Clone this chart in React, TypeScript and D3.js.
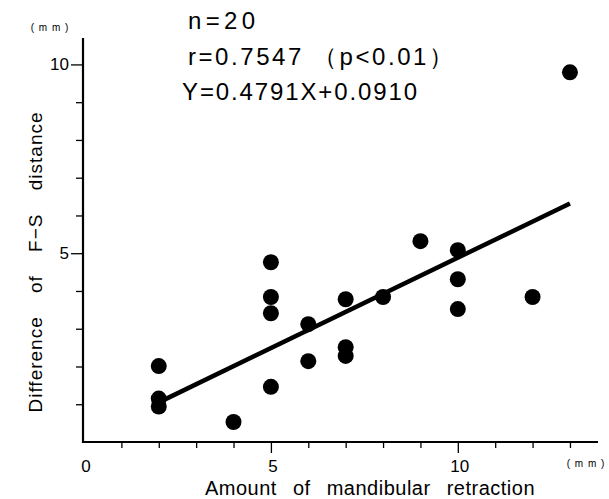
import * as d3 from "d3";
import React, { useRef, useEffect } from "react";

// amount of mandibular retraction (mm)
const xValues = [2, 2, 2, 4, 5, 5, 5, 5, 6, 6, 7, 7, 7, 8, 9, 10, 10, 10, 12, 13];
// difference of F-S distance (mm)
const yValues = [2.01, 1.15, 0.94, 0.53, 4.76, 3.84, 3.41, 1.46, 3.12, 2.14, 3.78, 2.51, 2.28, 3.84, 5.32, 5.08, 4.31, 3.52, 3.84, 9.79];
const xTickLabels = [0, 5, 10];
const yTickLabels = [5, 10];
const slope = 0.4791;
const intercept = 0.091;
const statLines = ["n=20", "r=0.7547 （p<0.01）", "Y=0.4791X+0.0910"];

const svgWidth = 609;
const svgHeight = 499;

const App = () => {
  const ref = useRef(null);

  useEffect(() => {
    const svg = d3.select(ref.current);
    svg.selectAll("*").remove();
    const font = "'Liberation Sans', Arial, sans-serif";

    const x = d3.scaleLinear().domain([0, 13.75]).range([84, 598]);
    const y = d3.scaleLinear().domain([0, 10.7]).range([442, 38]);

    const g = svg.append("g");

    // x axis
    const xAxis = d3.axisBottom(x).tickValues(d3.range(1, 14)).tickSize(6).tickFormat(() => "");
    const gx = g.append("g").attr("transform", `translate(0,${y(0)})`).call(xAxis);
    gx.select(".domain").attr("d", `M${x(0) - 1},0H${x(13.75)}`).attr("stroke-width", 2.2);
    gx.selectAll(".tick line").attr("stroke-width", 1.3).attr("y2", (d) => (d % 5 === 0 ? 11 : 6));

    // y axis
    const yAxis = d3.axisLeft(y).tickValues(d3.range(1, 11)).tickSize(7).tickFormat(() => "");
    const gy = g.append("g").attr("transform", `translate(${x(0) - 1},0)`).call(yAxis);
    gy.select(".domain").attr("d", `M0,${y(10.7)}V${y(0) + 1}`).attr("stroke-width", 2.2);
    gy.selectAll(".tick line").attr("stroke-width", 1.3).attr("x2", (d) => (d % 5 === 0 ? -12 : -7));

    g.selectAll(".xlab").data(xTickLabels).enter().append("text")
      .attr("x", (d) => x(d) + 2).attr("y", 472)
      .attr("text-anchor", "middle").attr("font-family", font).attr("font-size", 17)
      .text((d) => d);

    g.selectAll(".ylab").data(yTickLabels).enter().append("text")
      .attr("x", x(0) - 15).attr("y", (d) => y(d) + 6)
      .attr("text-anchor", "end").attr("font-family", font).attr("font-size", 17)
      .text((d) => d);

    // unit labels
    g.append("text").attr("x", 50).attr("y", 31).attr("text-anchor", "middle")
      .attr("font-family", font).attr("font-size", 10).attr("letter-spacing", 1).text("( m m )");
    g.append("text").attr("x", 586).attr("y", 467).attr("text-anchor", "middle")
      .attr("font-family", font).attr("font-size", 10).attr("letter-spacing", 1).text("( m m )");

    // axis titles
    g.append("text").attr("x", 370).attr("y", 495).attr("text-anchor", "middle")
      .attr("font-family", font).attr("font-size", 20).attr("letter-spacing", 0.5).attr("word-spacing", 10)
      .text("Amount of mandibular retraction");
    g.append("text").attr("transform", "translate(42,262) rotate(-90)").attr("text-anchor", "middle")
      .attr("font-family", font).attr("font-size", 19).attr("letter-spacing", 1).attr("word-spacing", 17)
      .text("Difference of F−S distance");

    // regression line
    const line = d3.line().x((d) => x(d[0])).y((d) => y(d[1]));
    const xs = [d3.min(xValues), d3.max(xValues)];
    g.append("path")
      .attr("d", line(xs.map((v) => [v, slope * v + intercept])))
      .attr("stroke", "#000").attr("stroke-width", 4.5).attr("fill", "none");

    // points
    g.selectAll(".pt").data(xValues).enter().append("circle")
      .attr("cx", (d) => x(d)).attr("cy", (d, i) => y(yValues[i]))
      .attr("r", 8).attr("fill", "#000");

    // statistics text
    const statX = [188, 188, 182];
    const statY = [29, 65, 100];
    const statW = [67, 265, 235];
    g.selectAll(".stat").data(statLines).enter().append("text")
      .attr("x", (d, i) => statX[i]).attr("y", (d, i) => statY[i])
      .attr("font-family", font).attr("font-size", 24)
      .attr("textLength", (d, i) => statW[i]).attr("lengthAdjust", "spacing")
      .text((d) => d);
  }, []);

  return (
    <svg ref={ref} width={svgWidth} height={svgHeight}
      style={{ position: "absolute", left: 0, top: 0, background: "#fff" }} />
  );
};

export default App;
